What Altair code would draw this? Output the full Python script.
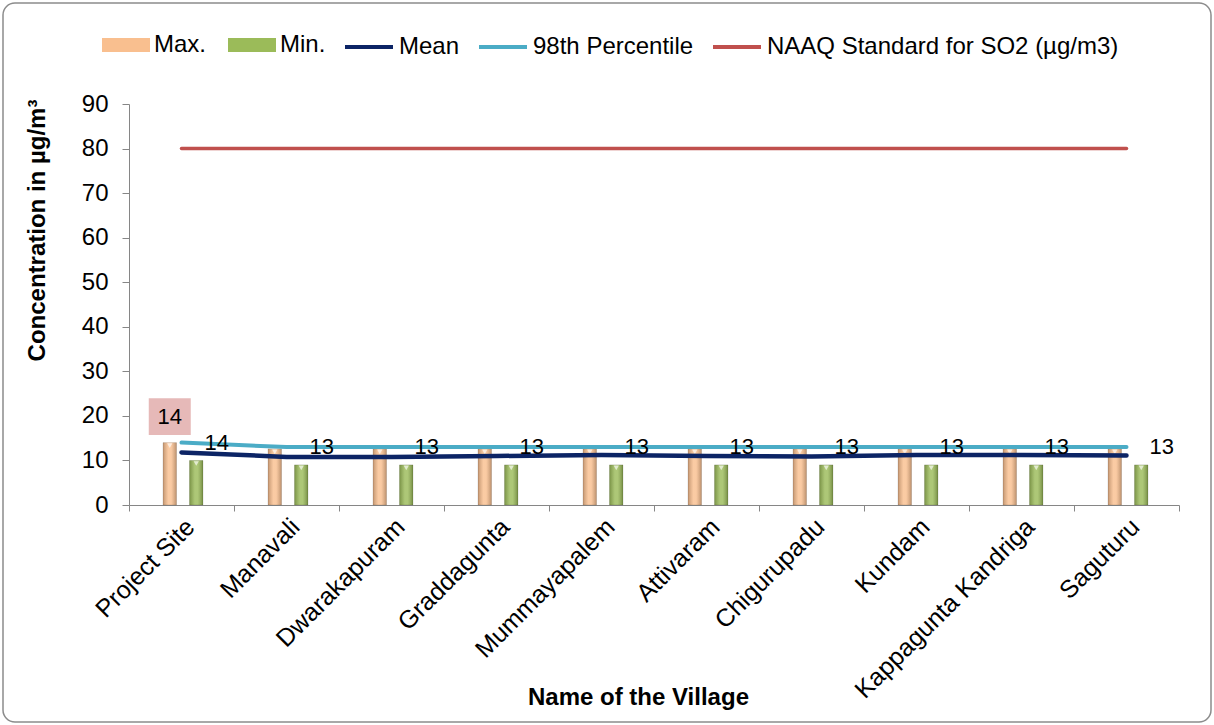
import altair as alt
import pandas as pd

# Sampling locations (x-axis categories)
villages = [
    "Project Site", "Manavali", "Dwarakapuram", "Graddagunta", "Mummayapalem",
    "Attivaram", "Chigurupadu", "Kundam", "Kappagunta Kandriga", "Saguturu",
]

# SO2 concentrations, µg/m3
max_vals = [14, 12.6, 12.6, 12.6, 12.6, 12.6, 12.6, 12.6, 12.6, 12.6]
min_vals = [10, 9, 9, 9, 9, 9, 9, 9, 9, 9]
mean_vals = [11.8, 10.8, 10.8, 11.0, 11.2, 11.0, 10.9, 11.2, 11.2, 11.1]
p98_vals = [14, 13, 13, 13, 13, 13, 13, 13, 13, 13]
naaq_vals = [80, 80, 80, 80, 80, 80, 80, 80, 80, 80]

y_ticks = [0, 10, 20, 30, 40, 50, 60, 70, 80, 90]

bar_series = ["Max.", "Min."]
bar_colors = ["#f9bf8f", "#9bbb59"]
line_series = ["Mean", "98th Percentile", "NAAQ Standard for SO2 (µg/m3)"]
line_colors = ["#0c2465", "#4bacc6", "#c0504d"]

bars = pd.DataFrame(
    [{"village": v, "series": "Max.", "value": x} for v, x in zip(villages, max_vals)]
    + [{"village": v, "series": "Min.", "value": x} for v, x in zip(villages, min_vals)]
)
lines = pd.DataFrame(
    [{"village": v, "series": line_series[2], "value": x} for v, x in zip(villages, naaq_vals)]
    + [{"village": v, "series": line_series[1], "value": x} for v, x in zip(villages, p98_vals)]
    + [{"village": v, "series": line_series[0], "value": x} for v, x in zip(villages, mean_vals)]
)

FONT = "Liberation Sans"
AXIS_GREY = "#868686"

x_enc = alt.X(
    "village:N",
    sort=villages,
    scale=alt.Scale(paddingInner=0, paddingOuter=0),
    axis=alt.Axis(
        title="Name of the Village",
        titleFontSize=24,
        titleFontWeight="bold",
        titleX=509,
        titleY=192,
        titleBaseline="middle",
        labelAngle=-45,
        labelFontSize=25,
        labelColor="black",
        labelLimit=400,
        labelPadding=3,
        labelOffset=0,
        tickBand="extent",
        tickSize=6,
        tickColor=AXIS_GREY,
        domainColor=AXIS_GREY,
        grid=False,
    ),
)
y_enc = alt.Y(
    "value:Q",
    scale=alt.Scale(domain=[0, 90], nice=False),
    axis=alt.Axis(
        title="Concentration in µg/m³",
        titleFontSize=24,
        titleFontWeight="bold",
        titleAngle=270,
        titleX=-92,
        titleY=126,
        titleAlign="center",
        titleBaseline="middle",
        values=y_ticks,
        labelFontSize=24,
        labelColor="black",
        labelPadding=14,
        tickSize=7,
        tickColor=AXIS_GREY,
        domainColor=AXIS_GREY,
        grid=False,
    ),
)
xoff_enc = alt.XOffset(
    "series:N",
    sort=bar_series,
    scale=alt.Scale(range=[34, 74], paddingInner=0.49, paddingOuter=0),
)

bar_base = alt.Chart(bars)

bar_layer = bar_base.mark_bar().encode(
    x=x_enc,
    xOffset=xoff_enc,
    y=y_enc,
    fill=alt.Fill(
        "series:N",
        scale=alt.Scale(domain=bar_series, range=bar_colors),
        legend=alt.Legend(
            title=None,
            orient="none",
            legendX=-27,
            legendY=-83,
            direction="horizontal",
            symbolType="M-1,-0.29L1,-0.29L1,0.29L-1,0.29Z",
            symbolSize=2304,
            symbolStrokeWidth=0,
            labelFontSize=24,
            labelColor="black",
            labelLimit=500,
            labelOffset=4,
            columnPadding=21,
        ),
    ),
)

# bevel-like shading across each bar
bar_shade = bar_base.mark_bar(
    color=alt.Gradient(
        gradient="linear",
        x1=0, x2=1, y1=0, y2=0,
        stops=[
            alt.GradientStop(color="rgba(0,0,0,0.22)", offset=0),
            alt.GradientStop(color="rgba(255,255,255,0.18)", offset=0.4),
            alt.GradientStop(color="rgba(255,255,255,0.18)", offset=0.6),
            alt.GradientStop(color="rgba(0,0,0,0.25)", offset=1),
        ],
    ),
    stroke="rgba(0,0,0,0.15)",
    strokeWidth=0.8,
).encode(x=x_enc, xOffset=xoff_enc, y=y_enc)

bar_caps = bar_base.mark_point(
    shape="triangle-down", filled=True, color="white", opacity=0.65, size=28, yOffset=3
).encode(x=x_enc, xOffset=xoff_enc, y=y_enc)

line_layer = alt.Chart(lines).mark_line(strokeCap="round").encode(
    x=x_enc,
    y=y_enc,
    detail="series:N",
    stroke=alt.Stroke(
        "series:N",
        scale=alt.Scale(domain=line_series, range=line_colors),
        legend=alt.Legend(
            title=None,
            orient="none",
            legendX=214,
            legendY=-83,
            direction="horizontal",
            symbolType="stroke",
            symbolSize=2304,
            symbolStrokeWidth=4,
            labelFontSize=24,
            labelColor="black",
            labelLimit=500,
            labelOffset=4,
            columnPadding=11,
        ),
    ),
    strokeWidth=alt.StrokeWidth(
        "series:N",
        scale=alt.Scale(domain=line_series, range=[4.5, 3.5, 5]),
        legend=None,
    ),
)

p98_labels = alt.Chart(lines).transform_filter(
    alt.datum.series == "98th Percentile"
).mark_text(align="left", baseline="middle", dx=23, fontSize=22, color="black").encode(
    x=x_enc,
    y=y_enc,
    text=alt.Text("value:Q", format=".0f"),
)

max_label_data = bar_base.transform_filter(
    (alt.datum.village == "Project Site") & (alt.datum.series == "Max.")
)
max_label_box = max_label_data.mark_point(
    shape="M-1,-0.88L1,-0.88L1,0.88L-1,0.88Z",
    size=1764,
    filled=True,
    color="#e6b9b8",
    opacity=1,
    yOffset=-26,
).encode(x=x_enc, xOffset=xoff_enc, y=y_enc)
max_label_text = max_label_data.mark_text(
    align="center", baseline="middle", dy=-26, fontSize=22, color="black"
).encode(x=x_enc, xOffset=xoff_enc, y=y_enc, text=alt.Text("value:Q", format=".0f"))

frame = alt.Chart(pd.DataFrame({"k": [0]})).mark_rect(
    fill="transparent", stroke="#8c8c8c", strokeWidth=1.5, cornerRadius=12
).encode(
    x=alt.value(-126), x2=alt.value(1082), y=alt.value(-101), y2=alt.value(618)
)

chart = alt.layer(
    frame, bar_layer, bar_shade, bar_caps, line_layer, p98_labels, max_label_box, max_label_text
).resolve_scale(
    fill="independent", stroke="independent"
).properties(
    width=1050,
    height=401,
    autosize=alt.AutoSizeParams(type="none"),
    padding={"left": 129, "top": 104, "right": 35, "bottom": 220},
    background="white",
).configure(
    font=FONT,
).configure_view(
    stroke=None,
)

chart.save("out.html", embed_options={"renderer": "svg", "actions": False})
